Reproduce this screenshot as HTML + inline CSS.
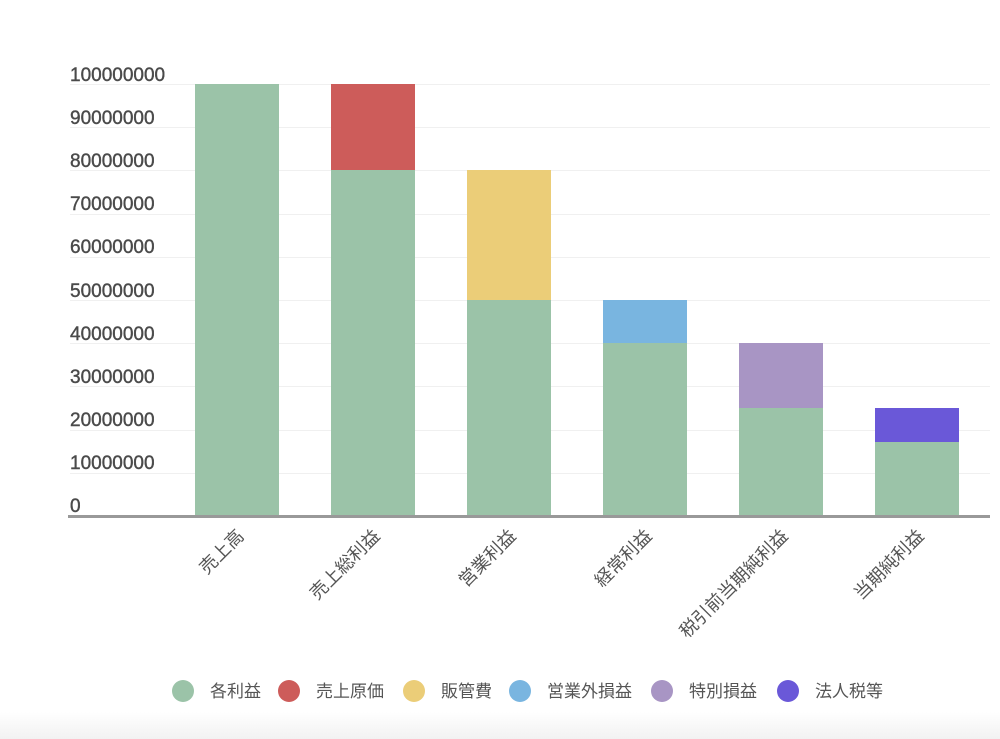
<!DOCTYPE html>
<html><head><meta charset="utf-8"><style>
html,body{margin:0;padding:0;background:#fff;}
svg{display:block;font-family:"Liberation Sans","Noto Sans CJK JP",sans-serif;}
</style></head><body>
<svg width="1000" height="739" viewBox="0 0 1000 739">
<defs><linearGradient id="g" x1="0" y1="0" x2="0" y2="1"><stop offset="0" stop-color="#fff"/><stop offset="1" stop-color="#f2f2f2"/></linearGradient></defs>
<rect x="0" y="712" width="1000" height="27" fill="url(#g)"/>
<g stroke="#f0f0f0" stroke-width="1">
<line x1="70" x2="990" y1="84.5" y2="84.5"/><line x1="70" x2="990" y1="127.5" y2="127.5"/><line x1="70" x2="990" y1="170.5" y2="170.5"/><line x1="70" x2="990" y1="214.5" y2="214.5"/><line x1="70" x2="990" y1="257.5" y2="257.5"/><line x1="70" x2="990" y1="300.5" y2="300.5"/><line x1="70" x2="990" y1="343.5" y2="343.5"/><line x1="70" x2="990" y1="386.5" y2="386.5"/><line x1="70" x2="990" y1="430.5" y2="430.5"/><line x1="70" x2="990" y1="473.5" y2="473.5"/>
</g>
<g font-size="19" fill="#4a4a4a" stroke="#4a4a4a" stroke-width="0.4">
<text x="70" y="81">100000000</text><text x="70" y="124">90000000</text><text x="70" y="167">80000000</text><text x="70" y="210">70000000</text><text x="70" y="253">60000000</text><text x="70" y="297">50000000</text><text x="70" y="340">40000000</text><text x="70" y="383">30000000</text><text x="70" y="426">20000000</text><text x="70" y="469">10000000</text><text x="70" y="512">0</text>
</g>
<g>
<rect x="195" y="84" width="84" height="432" fill="#9bc3a8"/>
<rect x="331" y="170" width="84" height="346" fill="#9bc3a8"/>
<rect x="331" y="84" width="84" height="86" fill="#cd5c5a"/>
<rect x="467" y="300" width="84" height="216" fill="#9bc3a8"/>
<rect x="467" y="170" width="84" height="130" fill="#ebcd78"/>
<rect x="603" y="343" width="84" height="173" fill="#9bc3a8"/>
<rect x="603" y="300" width="84" height="43" fill="#79b5e0"/>
<rect x="739" y="408" width="84" height="108" fill="#9bc3a8"/>
<rect x="739" y="343" width="84" height="65" fill="#a895c4"/>
<rect x="875" y="442" width="84" height="74" fill="#9bc3a8"/>
<rect x="875" y="408" width="84" height="34" fill="#6a58d8"/>
</g>
<line x1="68" x2="990" y1="516.5" y2="516.5" stroke="#999" stroke-width="3"/>
<g font-size="18" fill="#555" text-anchor="end">
<text transform="translate(245,537) rotate(-45)">売上高</text>
<text transform="translate(381,537) rotate(-45)">売上総利益</text>
<text transform="translate(517,537) rotate(-45)">営業利益</text>
<text transform="translate(653,537) rotate(-45)">経常利益</text>
<text transform="translate(789,537) rotate(-45)">税引前当期純利益</text>
<text transform="translate(925,537) rotate(-45)">当期純利益</text>
</g>
<g font-size="17" fill="#555">
<circle cx="183" cy="691" r="11" fill="#9bc3a8"/><text x="210" y="697">各利益</text>
<circle cx="289" cy="691" r="11" fill="#cd5c5a"/><text x="316" y="697">売上原価</text>
<circle cx="414" cy="691" r="11" fill="#ebcd78"/><text x="441" y="697">販管費</text>
<circle cx="520" cy="691" r="11" fill="#79b5e0"/><text x="547" y="697">営業外損益</text>
<circle cx="662" cy="691" r="11" fill="#a895c4"/><text x="689" y="697">特別損益</text>
<circle cx="788" cy="691" r="11" fill="#6a58d8"/><text x="815" y="697">法人税等</text>
</g>
</svg>
</body></html>
